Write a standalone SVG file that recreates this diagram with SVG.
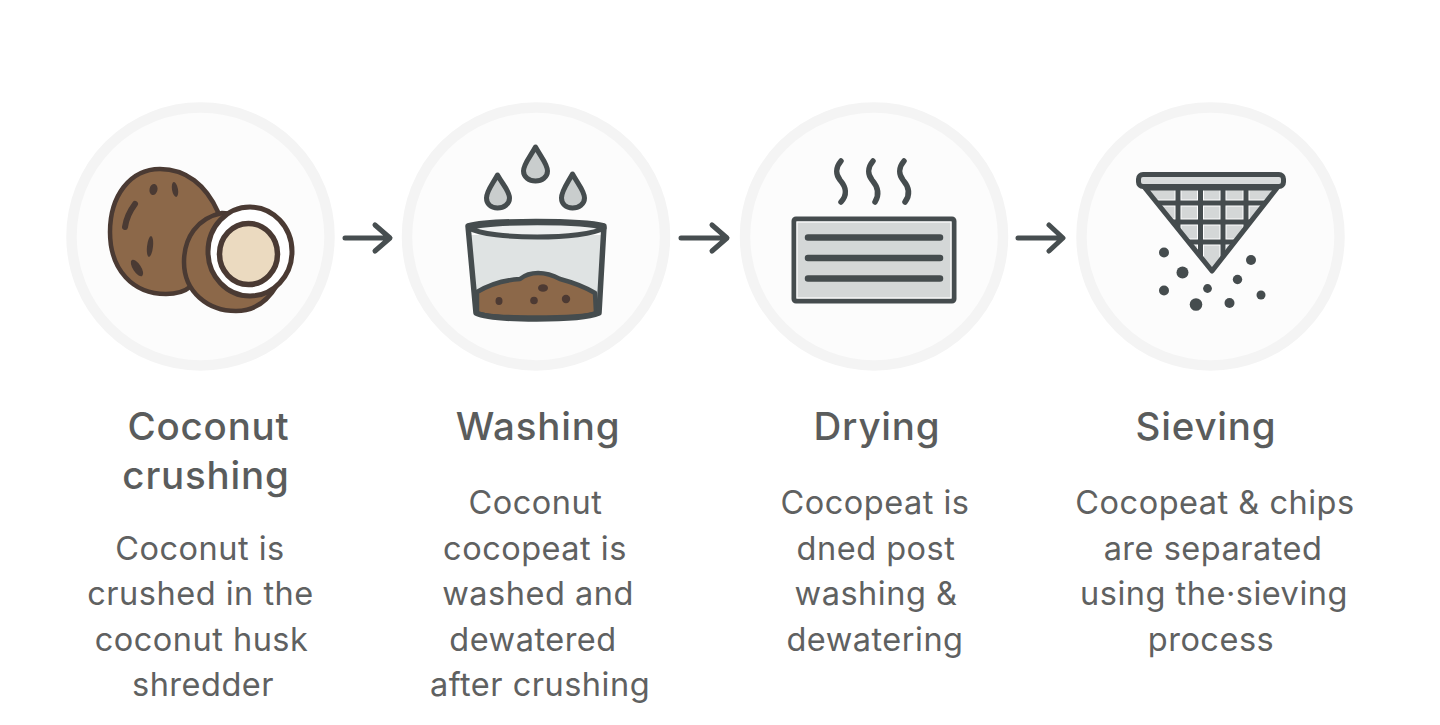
<svg xmlns="http://www.w3.org/2000/svg" width="1440" height="725" viewBox="0 0 1440 725">
<style>
.bg{fill:#fcfcfc;stroke:#f4f4f4;stroke-width:10.500}
.h{font-family:"Inter","Noto Sans",sans-serif;font-size:38.500px;font-weight:500;letter-spacing:.8px;fill:#5a5c5c;text-anchor:middle}
.b{font-family:"Inter","Noto Sans",sans-serif;font-size:32.500px;font-weight:400;letter-spacing:.5px;fill:#5f6161;text-anchor:middle}
.k{stroke:#4a3a33;stroke-width:4.500;stroke-linejoin:round}
.n{fill:#8c6849}
.d{stroke:#454c4e;fill:none;stroke-linecap:round;stroke-linejoin:round}
.dot{fill:#454c4e}
.dirt{fill:#4d3a33}
.ar{fill:none;stroke:#474e50;stroke-width:5;stroke-linecap:round;stroke-linejoin:round}
.drop{fill:#c9cdcd;stroke:#454c4e;stroke-width:5;stroke-linejoin:round}
</style>
<defs>
<clipPath id="sieve"><path d="M1145 188H1277L1212 273Z"/></clipPath>
</defs>
<rect width="1440" height="725" fill="#fff"/>
<g id="connectors">
<path class="ar" d="M345 238H389M375 225L390 238L375 251"/>
<path class="ar" d="M681 238H726M712 225L727 238L712 251"/>
<path class="ar" d="M1018 238H1062M1049 225L1063 238L1049 251"/>
</g>
<g id="node-crushing">
<circle class="bg" cx="200.500" cy="236.500" r="129"/>
<path class="k n" d="M218 212C206 185 186 169 160 169C130 169 110 196 110 232C110 270 133 294 166 294C176 294 184 292 190 287Z"/>
<g fill="#4a3a33">
<ellipse cx="153.500" cy="189.500" rx="4" ry="5.500" transform="rotate(12 153.500 189.500)"/>
<ellipse cx="175" cy="189.500" rx="3" ry="7.500" transform="rotate(-10 175 189.500)"/>
<path d="M135 204C129 212 126 220 125 227" fill="none" stroke="#4a3a33" stroke-width="6" stroke-linecap="round"/>
<ellipse cx="150" cy="246.500" rx="3" ry="10.500" transform="rotate(6 150 246.500)"/>
<ellipse cx="137" cy="268" rx="4" ry="9.500" transform="rotate(-33 137 268)"/>
</g>
<path class="k" fill="#8c6849" d="M222 213C197 218 184 238 184 262C184 292 208 311 236 311C252 311 266 304 277 285L250 215Z"/>
<ellipse cx="250" cy="251.500" rx="42" ry="44.500" fill="#fff" stroke="#4a3a33" stroke-width="5"/>
<ellipse cx="248.500" cy="254" rx="29" ry="30.500" fill="#ebdac0" stroke="#4a3a33" stroke-width="5.500"/>
</g>
<g id="node-washing">
<circle class="bg" cx="536" cy="236.500" r="129"/>
<path class="drop" d="M497.500 175C492 185 486.500 191 486.500 198C486.500 204 491 208 497.500 208C504 208 509.500 204 509.500 198C509.500 191 503 185 497.500 175Z"/>
<path class="drop" d="M535.500 147C530 157 523.500 164 523.500 171C523.500 177 529 181 535.500 181C542 181 547.500 177 547.500 171C547.500 164 541 157 535.500 147Z"/>
<path class="drop" d="M572.500 174C567 184 561.500 191 561.500 198C561.500 204 566 208 572.500 208C579 208 584.500 204 584.500 198C584.500 191 578 184 572.500 174Z"/>
<path d="M470 235L476 310C490 317 580 317 597 310L603 235Z" fill="#dfe3e3"/>
<path d="M477 292C492 283 505 280 520 279C530 271 545 271 560 279C575 283 585 287 595 293L596 313C580 319 490 319 477 313Z" fill="#8c6849" stroke="#454c4e" stroke-width="4.500" stroke-linejoin="round"/>
<path class="d" stroke-width="5.500" d="M468 226C490 220 582 220 604 226L599 313C580 321 492 321 476 313Z"/>
<path d="M469 228C490 240 585 240 604 228C585 221 490 221 469 228Z" fill="#eef0f0" stroke="#454c4e" stroke-width="5" stroke-linejoin="round"/>
<g class="dirt"><ellipse cx="499" cy="301" rx="3.500" ry="4"/><circle cx="534" cy="300.500" r="3.800"/><circle cx="566" cy="299" r="4.200"/><ellipse cx="543" cy="288" rx="5" ry="3.800"/></g>
</g>
<g id="node-drying">
<circle class="bg" cx="874" cy="236.500" r="129"/>
<path class="d" stroke-width="5.500" d="M841 161C835 168 836 175 840 180C846 187 848 194 841 202"/>
<path class="d" stroke-width="5.500" d="M873 161C867 168 868 175 872 180C878 187 880 194 875 202"/>
<path class="d" stroke-width="5.500" d="M904 161C898 168 899 175 903 180C909 187 911 194 905 202"/>
<rect x="794" y="219" width="160" height="82" rx="2" fill="#d4d7d7" stroke="#454c4e" stroke-width="5"/>
<rect x="797" y="222" width="154" height="76" fill="none" stroke="#fff" stroke-width="1.200"/>
<path class="d" stroke="#f2f3f3" stroke-width="6.500" d="M808 237.500H940M808 258H940M808 278.500H940"/>
<path class="d" stroke-width="4.500" d="M808 237.500H940M808 258H940M808 278.500H940"/>
</g>
<g id="node-sieving">
<circle class="bg" cx="1210.500" cy="236.500" r="129"/>
<path d="M1145 188H1277L1212 273Z" fill="#d4d7d7"/>
<g clip-path="url(#sieve)">
<path d="M1145 203H1277M1145 222H1277M1145 242H1277M1178 188V273M1200.500 188V273M1223 188V273M1246 188V273" stroke="#fff" stroke-width="7" fill="none"/>
<path d="M1145 203H1277M1145 222H1277M1145 242H1277M1178 188V273M1200.500 188V273M1223 188V273M1246 188V273" stroke="#454c4e" stroke-width="5" fill="none"/>
</g>
<path d="M1145 188H1277L1212 271Z" fill="none" stroke="#454c4e" stroke-width="5" stroke-linejoin="round"/>
<rect x="1138.500" y="174.500" width="145" height="12" rx="4.500" fill="#d9dcdc" stroke="#454c4e" stroke-width="5"/>
<g class="dot">
<circle cx="1164" cy="252.500" r="5"/><circle cx="1182.500" cy="272.500" r="6"/><circle cx="1164" cy="290.500" r="5"/><circle cx="1196" cy="304.500" r="6.300"/><circle cx="1207.500" cy="288.500" r="4.400"/><circle cx="1229.500" cy="303" r="5"/><circle cx="1237.500" cy="279.500" r="4.700"/><circle cx="1251" cy="260" r="5"/><circle cx="1261" cy="295" r="4.500"/>
</g>
</g>
<g id="labels">
<text class="h" x="208.500" y="440">Coconut</text>
<text class="h" x="206" y="489">crushing</text>
<text class="b" x="200" y="559.500">Coconut is</text>
<text class="b" x="200.500" y="604.500">crushed in the</text>
<text class="b" x="201.500" y="650.500">coconut husk</text>
<text class="b" x="203" y="695.500">shredder</text>
<text class="h" x="538" y="440">Washing</text>
<text class="b" x="535.500" y="513.500">Coconut</text>
<text class="b" x="535" y="559.500">cocopeat is</text>
<text class="b" x="538" y="604.500">washed and</text>
<text class="b" x="533" y="650.500">dewatered</text>
<text class="b" x="540" y="695.500">after crushing</text>
<text class="h" x="877" y="440">Drying</text>
<text class="b" x="875" y="513.500">Cocopeat is</text>
<text class="b" x="876" y="559.500">dned post</text>
<text class="b" x="876" y="604.500">washing &amp;</text>
<text class="b" x="875" y="650.500">dewatering</text>
<text class="h" x="1206" y="440">Sieving</text>
<text class="b" x="1215" y="513.500">Cocopeat &amp; chips</text>
<text class="b" x="1213" y="559.500">are separated</text>
<text class="b" x="1214" y="604.500">using the·sieving</text>
<text class="b" x="1211" y="650.500">process</text>
</g>
</svg>
